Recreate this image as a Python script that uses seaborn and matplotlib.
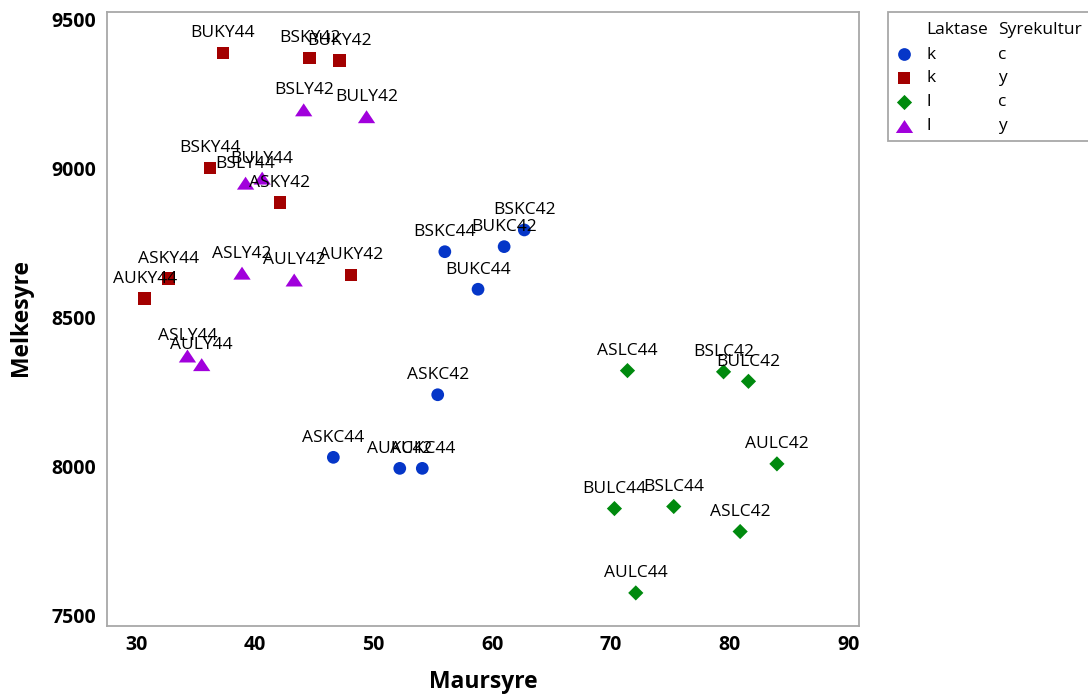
import numpy as np
import pandas as pd
import matplotlib
matplotlib.use("Agg")
import matplotlib.pyplot as plt
from matplotlib.patches import Rectangle
import seaborn as sns

# Sample names, grouped by Laktase / Syrekultur
names_kc = ["BSKC44", "BUKC42", "BSKC42", "BUKC44", "ASKC42", "ASKC44", "AUKC42", "AUKC44"]
maur_kc = [56.0, 61.0, 62.7, 58.8, 55.4, 46.6, 52.2, 54.1]
melk_kc = [8722, 8739, 8795, 8596, 8242, 8032, 7995, 7995]

names_ky = ["BUKY44", "BSKY42", "BUKY42", "BSKY44", "ASKY42", "AUKY42", "ASKY44", "AUKY44"]
maur_ky = [37.3, 44.6, 47.1, 36.2, 42.1, 48.1, 32.7, 30.7]
melk_ky = [9389, 9372, 9364, 9003, 8886, 8644, 8631, 8564]

names_lc = ["ASLC44", "BSLC42", "BULC42", "AULC42", "BULC44", "BSLC44", "ASLC42", "AULC44"]
maur_lc = [71.4, 79.5, 81.6, 84.0, 70.3, 75.3, 80.9, 72.1]
melk_lc = [8323, 8319, 8287, 8010, 7860, 7867, 7783, 7577]

names_ly = ["BSLY42", "BULY42", "BSLY44", "BULY44", "ASLY42", "AULY42", "ASLY44", "AULY44"]
maur_ly = [44.1, 49.4, 39.2, 40.6, 38.9, 43.3, 34.3, 35.5]
melk_ly = [9198, 9175, 8952, 8969, 8650, 8627, 8372, 8343]

groups = [("k", "c"), ("k", "y"), ("l", "c"), ("l", "y")]
group_data = [
    (names_kc, maur_kc, melk_kc),
    (names_ky, maur_ky, melk_ky),
    (names_lc, maur_lc, melk_lc),
    (names_ly, maur_ly, melk_ly),
]

rows = []
for (lak, syre), (nm, mx, my) in zip(groups, group_data):
    for n, x, y in zip(nm, mx, my):
        rows.append({"Navn": n, "Maursyre": x, "Melkesyre": y,
                     "Laktase": lak, "Syrekultur": syre, "Gruppe": lak + syre})
df = pd.DataFrame(rows)

colors = {"kc": "#0536c8", "ky": "#a30000", "lc": "#008a0e", "ly": "#a100dc"}
wide_triangle = [(-1.0, -0.75), (1.0, -0.75), (0.0, 0.75)]
markers = {"kc": "o", "ky": "s", "lc": "D", "ly": wide_triangle}
sizes = {"kc": 84, "ky": 84, "lc": 60, "ly": 155}

sns.set_theme(style="white")
plt.rcParams["font.family"] = ["Open Sans", "DejaVu Sans"]

W, H = 1088, 695
fig = plt.figure(figsize=(W / 100, H / 100), dpi=100)
ax = fig.add_axes([107.4 / W, 1 - 626 / H, (859 - 107.4) / W, (626 - 12.4) / H])

sns.scatterplot(data=df, x="Maursyre", y="Melkesyre", hue="Gruppe", style="Gruppe",
                size="Gruppe", palette=colors, markers=markers, sizes=sizes,
                linewidth=0, legend=False, ax=ax, zorder=3)

for _, r in df.iterrows():
    ax.annotate(r["Navn"], (r["Maursyre"], r["Melkesyre"]), xytext=(0, 11.2),
                textcoords="offset points", ha="center", va="baseline",
                fontsize=12.5, color="#000000", zorder=4)

ax.set_xlim(27.55, 90.92)
ax.set_ylim(7466, 9525)
ax.set_xticks([30, 40, 50, 60, 70, 80, 90])
ax.set_yticks([7500, 8000, 8500, 9000, 9500])

for sp in ax.spines.values():
    sp.set_color("#a8a8a8")
    sp.set_linewidth(1.3)
ax.tick_params(axis="both", which="major", direction="out", length=5, width=1.2,
               color="#a8a8a8", labelsize=14, labelcolor="#000000")
ax.tick_params(axis="x", pad=1.5)
ax.tick_params(axis="y", pad=3)
for lab in ax.get_xticklabels() + ax.get_yticklabels():
    lab.set_fontweight("bold")

ax.set_xlabel("Maursyre", fontsize=16.5, fontweight="bold", color="#000000")
ax.set_ylabel("Melkesyre", fontsize=16.5, fontweight="bold", color="#000000")
ax.xaxis.set_label_coords(0.5, -0.0725)
ax.yaxis.set_label_coords(-0.099, 0.502)

# Legend panel, laid out in pixel coordinates
lax = fig.add_axes([0, 0, 1, 1], zorder=5)
lax.set_xlim(0, W)
lax.set_ylim(H, 0)
lax.axis("off")
lax.patch.set_alpha(0)
lax.add_patch(Rectangle((888, 12), 230, 129, facecolor="white", edgecolor="#a8a8a8",
                        linewidth=1.3, clip_on=False))
lax.text(926, 34, "Laktase", fontsize=12.5, va="baseline", ha="left", color="#000000")
lax.text(998, 34, "Syrekultur", fontsize=12.5, va="baseline", ha="left", color="#000000")
leg_y = [54.3, 77.7, 101.7, 125.7]
for (lak, syre), yy in zip(groups, leg_y):
    key = lak + syre
    lax.scatter([904.3], [yy], s=sizes[key], marker=markers[key], color=colors[key],
                linewidth=0)
    lax.text(926, yy + 4.3, lak, fontsize=12.5, va="baseline", ha="left", color="#000000")
    lax.text(998, yy + 4.3, syre, fontsize=12.5, va="baseline", ha="left", color="#000000")

fig.savefig("out.png", dpi=100)
